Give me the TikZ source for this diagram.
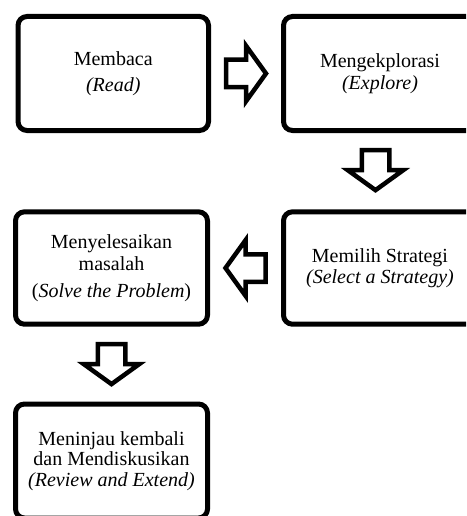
\documentclass[tikz,border=0pt]{standalone}
\usepackage{fontspec}
\setmainfont{Liberation Serif}
\usetikzlibrary{calc}
\tikzset{
  box/.style={draw, line width=5pt, rounded corners=9pt, inner sep=0pt,
    align=center, font=\fontsize{20}{20.5}\selectfont, fill=white},
  arrowline/.style={draw, line width=4.5pt, fill=white, line join=miter},
  barrow/.pic={\path[arrowline] (-20,-13.75) -- (0,-13.75) -- (0,-27.75) -- (20,0)
     -- (0,27.75) -- (0,13.75) -- (-20,13.75) -- cycle;}
}
\begin{document}
\begin{tikzpicture}[x=1pt,y=-1pt]
\useasboundingbox (0,0) rectangle (466,516);
\clip (0,0) rectangle (466,516);
\node[box, minimum width=190.5pt, minimum height=114pt] (b1) at (113.25,73.5)
  {Membaca\\[6pt]\textit{(Read)}};
\node[box, minimum width=193pt, minimum height=114pt] (b2) at (380,73.5)
  {Mengekplorasi\\[1.5pt]\textit{(Explore)}};
\node[box, minimum width=193pt, minimum height=112.4pt] (b3) at (380,268)
  {Memilih Strategi\\\textit{(Select a Strategy)}};
\node[box, minimum width=192pt, minimum height=112.4pt] (b4) at (111.5,268)
  {Menyelesaikan\\[1.5pt]masalah\\[6pt](\textit{Solve the Problem})};
\node[box, minimum width=192pt, minimum height=114pt] (b5) at (111.5,461)
  {Meninjau kembali\\dan Mendiskusikan\\\textit{(Review and Extend)}};
\pic at ($(b1.east)!0.5!(b2.west)$) {barrow};
\pic[rotate=-90] at ($(b2.south)!0.5!(b3.north)+(-4.5,-1)$) {barrow};
\pic[rotate=180] at ($(b3.west)!0.5!(b4.east)$) {barrow};
\pic[rotate=-90] at ($(b4.south)!0.5!(b5.north)$) {barrow};
\end{tikzpicture}
\end{document}
